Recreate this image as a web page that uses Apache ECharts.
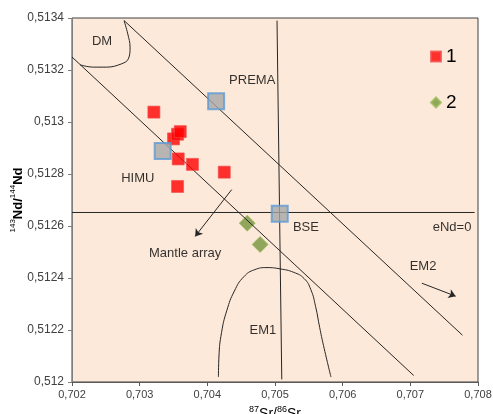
<!DOCTYPE html>
<html lang="en">
<head>
    <meta charset="UTF-8">
    <title>Sr-Nd isotopes</title>
    <script src="https://cdn.jsdelivr.net/npm/echarts@6/dist/echarts.min.js"></script>
    <style>
        body { margin: 0; background: #fff; }
    </style>
</head>
<body>
    <div id="main" style="width: 493px;height:414px;"></div>
    <script type="text/javascript">
        // samples (group 1 = red squares, group 2 = green diamonds)
        let group1Sr = [0.70321, 0.70350, 0.70356, 0.70360, 0.70357, 0.70378, 0.70425, 0.70356];
        let group1Nd = [0.513038, 0.512935, 0.512953, 0.512963, 0.512858, 0.512837, 0.512807, 0.512752];
        let group2Sr = [0.70459, 0.70478];
        let group2Nd = [0.512611, 0.512529];
        // reservoirs (gray squares): PREMA, HIMU-side point, BSE
        let reservoirSr = [0.70413, 0.70334, 0.70507];
        let reservoirNd = [0.51308, 0.512888, 0.512647];

        // reference lines
        let eNdZero = [[0.702, 0.512652], [0.70795, 0.512652]];
        let srBse = [[0.70503, 0.51339], [0.70510, 0.51201]];
        let upperArray = [[0.70277, 0.51339], [0.70777, 0.51218]];
        let lowerArray = [[0.702, 0.51325], [0.70705, 0.512025]];
        let dmCurve = [[0.702769, 0.51339], [0.702824, 0.513339], [0.702858, 0.513288], [0.702833, 0.513243],
            [0.702735, 0.513224], [0.702513, 0.513211], [0.702315, 0.513211], [0.702118, 0.51322]];
        let em1Curve = [[0.704164, 0.512019], [0.704172, 0.512100], [0.704210, 0.512190], [0.704288, 0.512275],
            [0.704400, 0.512350], [0.704540, 0.512405], [0.704700, 0.512432], [0.70488, 0.512440],
            [0.705077, 0.512435], [0.705274, 0.512422], [0.705430, 0.512398], [0.705530, 0.512355],
            [0.705600, 0.512290], [0.705660, 0.512210], [0.705717, 0.51214], [0.705827, 0.512019]];
        let mantleArrow = [[0.70436, 0.51274], [0.70382, 0.51256]];
        let em2Arrow = [[0.70717, 0.51238], [0.70767, 0.51233]];

        // field labels
        let labelNames = ['DM', 'PREMA', 'HIMU', 'Mantle array', 'BSE', 'eNd=0', 'EM2', 'EM1'];
        let labelSr = [0.702444, 0.704663, 0.702972, 0.703672, 0.705457, 0.707617, 0.707188, 0.704821];
        let labelNd = [0.513311, 0.51316, 0.512782, 0.512495, 0.512595, 0.512595, 0.512445, 0.5122];

        function fmt(v, d) {
            return parseFloat(v.toFixed(d)).toString().replace('.', ',');
        }
        function zip(a, b) {
            return a.map((v, i) => [v, b[i]]);
        }
        function lineSeries(data, smooth) {
            return {
                type: 'line',
                data: data,
                smooth: smooth || false,
                symbol: 'none',
                silent: true,
                lineStyle: { color: '#262626', width: 1 },
                z: 3
            };
        }
        function arrowSeries(pts) {
            return {
                type: 'line',
                data: [],
                silent: true,
                markLine: {
                    silent: true,
                    symbol: ['none', 'arrow'],
                    symbolSize: 7,
                    label: { show: false },
                    lineStyle: { color: '#262626', width: 1, type: 'solid' },
                    data: [[{ coord: pts[0] }, { coord: pts[1] }]]
                }
            };
        }

        let options = {
            animation: false,
            textStyle: { fontFamily: 'Liberation Sans, Arial, sans-serif' },
            grid: {
                left: 72, right: 15, top: 18, bottom: 32,
                containLabel: false,
                outerBoundsMode: 'none',
                show: true,
                backgroundColor: '#FDE9D9',
                borderColor: '#404040',
                borderWidth: 1
            },
            legend: {
                data: ['1', '2'],
                orient: 'vertical',
                left: 425, top: 42,
                itemWidth: 10, itemHeight: 10,
                itemGap: 27,
                textStyle: { fontSize: 19, color: '#000' }
            },
            xAxis: {
                type: 'value',
                min: 0.702, max: 0.708, interval: 0.001,
                name: '{sup|87}{t|Sr/}{sup|86}{t|Sr}',
                nameLocation: 'middle',
                nameGap: 21,
                nameTextStyle: {
                    rich: {
                        t: { fontSize: 14, color: '#000', verticalAlign: 'bottom', lineHeight: 16 },
                        sup: { fontSize: 9, color: '#000', verticalAlign: 'top', lineHeight: 16 }
                    }
                },
                splitLine: { show: false },
                axisLine: { lineStyle: { color: '#595959' } },
                axisTick: { show: true, length: 4, lineStyle: { color: '#595959' } },
                axisLabel: { fontSize: 11, color: '#404040', margin: 7, formatter: v => fmt(v, 3) }
            },
            yAxis: {
                type: 'value',
                min: 0.512, max: 0.5134, interval: 0.0002,
                name: '{sup|143}{t|Nd/}{sup|144}{t|Nd}',
                nameLocation: 'middle',
                nameRotate: 90,
                nameGap: 47,
                nameMoveOverlap: false,
                nameTextStyle: {
                    rich: {
                        t: { fontSize: 13, color: '#000', fontWeight: 'bold', verticalAlign: 'bottom', lineHeight: 16 },
                        sup: { fontSize: 8, color: '#000', verticalAlign: 'top', lineHeight: 16 }
                    }
                },
                splitLine: { show: false },
                axisLine: { show: true, lineStyle: { color: '#7f7f7f' } },
                axisTick: { show: true, length: 4, lineStyle: { color: '#7f7f7f' } },
                axisLabel: { fontSize: 12, color: '#404040', margin: 8, formatter: v => fmt(v, 4) }
            },
            series: [
                {
                    name: '2',
                    type: 'scatter',
                    symbol: 'diamond',
                    symbolSize: 16,
                    itemStyle: { color: '#77933C', borderColor: '#9BBB59', borderWidth: 0.8 },
                    data: zip(group2Sr, group2Nd),
                    z: 2
                },
                lineSeries(eNdZero),
                lineSeries(srBse),
                lineSeries(upperArray),
                lineSeries(lowerArray),
                lineSeries(dmCurve, 0.4),
                lineSeries(em1Curve, 0.5),
                arrowSeries(mantleArrow),
                arrowSeries(em2Arrow),
                {
                    name: '1',
                    type: 'scatter',
                    symbol: 'rect',
                    symbolSize: 12,
                    itemStyle: { color: '#FF0000', borderColor: '#F05050', borderWidth: 0.8 },
                    data: zip(group1Sr, group1Nd),
                    z: 4
                },
                {
                    name: 'reservoirs',
                    type: 'scatter',
                    symbol: 'rect',
                    symbolSize: 16,
                    itemStyle: { color: '#A6A6A6', borderColor: '#5B9BD5', borderWidth: 2 },
                    data: zip(reservoirSr, reservoirNd),
                    z: 5
                },
                {
                    name: 'labels',
                    type: 'scatter',
                    symbolSize: 0,
                    silent: true,
                    label: {
                        show: true,
                        position: 'inside',
                        formatter: '{b}',
                        fontSize: 13,
                        color: '#000'
                    },
                    data: labelNames.map((n, i) => ({ name: n, value: [labelSr[i], labelNd[i]] })),
                    z: 6
                }
            ]
        };

        let myChart = echarts.init(document.getElementById('main'));
        myChart.setOption(options);
    </script>
</body>
</html>
